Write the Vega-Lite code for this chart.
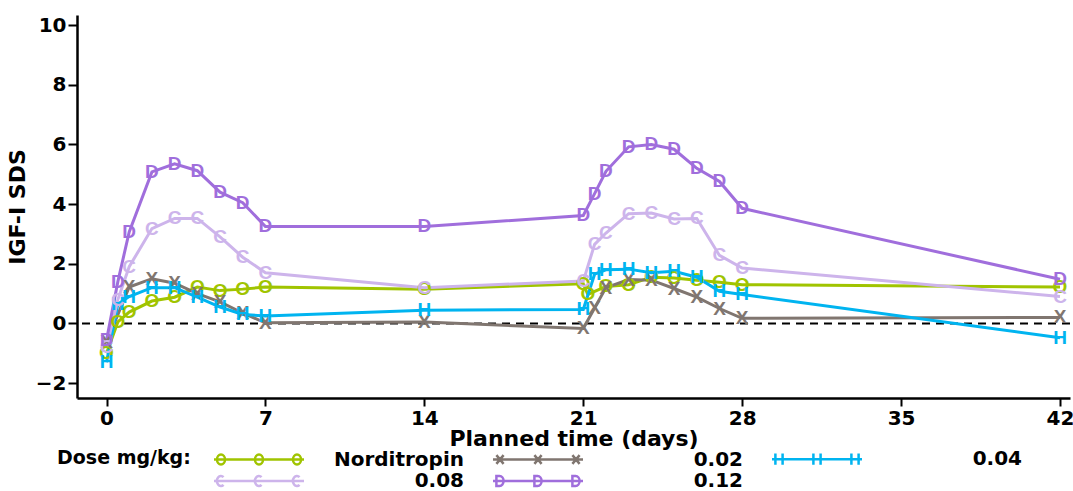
{
  "$schema": "https://vega.github.io/schema/vega-lite/v6.json",
  "width": 993,
  "height": 383,
  "autosize": {"type": "none"},
  "padding": {"left": 77, "top": 15, "right": 3, "bottom": 93},
  "background": "white",
  "config": {"view": {"stroke": null}, "font": "DejaVu Sans"},
  "layer": [
    {
      "data": {"values": [{"ref": 0}]},
      "mark": {"type": "rule", "strokeDash": [8, 6], "strokeWidth": 2, "color": "black"},
      "encoding": {"y": {"field": "ref", "type": "quantitative", "title": "IGF-I SDS"}}
    },
    {
      "data": {
        "values": [
          {"dose": "Norditropin", "day": 0, "sds": -1.0},
          {"dose": "Norditropin", "day": 0.5, "sds": 0.05},
          {"dose": "Norditropin", "day": 1, "sds": 0.38},
          {"dose": "Norditropin", "day": 2, "sds": 0.75},
          {"dose": "Norditropin", "day": 3, "sds": 0.88},
          {"dose": "Norditropin", "day": 4, "sds": 1.22},
          {"dose": "Norditropin", "day": 5, "sds": 1.1},
          {"dose": "Norditropin", "day": 6, "sds": 1.15},
          {"dose": "Norditropin", "day": 7, "sds": 1.22},
          {"dose": "Norditropin", "day": 14, "sds": 1.15},
          {"dose": "Norditropin", "day": 21, "sds": 1.33},
          {"dose": "Norditropin", "day": 21.2, "sds": 0.97},
          {"dose": "Norditropin", "day": 22, "sds": 1.24},
          {"dose": "Norditropin", "day": 23, "sds": 1.3},
          {"dose": "Norditropin", "day": 24, "sds": 1.55},
          {"dose": "Norditropin", "day": 25, "sds": 1.52},
          {"dose": "Norditropin", "day": 26, "sds": 1.45},
          {"dose": "Norditropin", "day": 27, "sds": 1.38},
          {"dose": "Norditropin", "day": 28, "sds": 1.3},
          {"dose": "Norditropin", "day": 42, "sds": 1.22},
          {"dose": "0.02", "day": 0, "sds": -0.63},
          {"dose": "0.02", "day": 1, "sds": 1.22},
          {"dose": "0.02", "day": 2, "sds": 1.5},
          {"dose": "0.02", "day": 3, "sds": 1.35},
          {"dose": "0.02", "day": 4, "sds": 1.0},
          {"dose": "0.02", "day": 5, "sds": 0.72},
          {"dose": "0.02", "day": 6, "sds": 0.35},
          {"dose": "0.02", "day": 7, "sds": 0.02},
          {"dose": "0.02", "day": 14, "sds": 0.05},
          {"dose": "0.02", "day": 21, "sds": -0.17},
          {"dose": "0.02", "day": 21.5, "sds": 0.52},
          {"dose": "0.02", "day": 22, "sds": 1.2},
          {"dose": "0.02", "day": 23, "sds": 1.47},
          {"dose": "0.02", "day": 24, "sds": 1.45},
          {"dose": "0.02", "day": 25, "sds": 1.17},
          {"dose": "0.02", "day": 26, "sds": 0.88},
          {"dose": "0.02", "day": 27, "sds": 0.5},
          {"dose": "0.02", "day": 28, "sds": 0.17},
          {"dose": "0.02", "day": 42, "sds": 0.2},
          {"dose": "0.04", "day": 0, "sds": -1.3},
          {"dose": "0.04", "day": 0.5, "sds": 0.65},
          {"dose": "0.04", "day": 1, "sds": 0.9},
          {"dose": "0.04", "day": 2, "sds": 1.2},
          {"dose": "0.04", "day": 3, "sds": 1.2},
          {"dose": "0.04", "day": 4, "sds": 0.88},
          {"dose": "0.04", "day": 5, "sds": 0.55},
          {"dose": "0.04", "day": 6, "sds": 0.3},
          {"dose": "0.04", "day": 7, "sds": 0.25},
          {"dose": "0.04", "day": 14, "sds": 0.44},
          {"dose": "0.04", "day": 21, "sds": 0.47},
          {"dose": "0.04", "day": 21.5, "sds": 1.65},
          {"dose": "0.04", "day": 22, "sds": 1.8},
          {"dose": "0.04", "day": 23, "sds": 1.82},
          {"dose": "0.04", "day": 24, "sds": 1.7},
          {"dose": "0.04", "day": 25, "sds": 1.75},
          {"dose": "0.04", "day": 26, "sds": 1.55},
          {"dose": "0.04", "day": 27, "sds": 1.08},
          {"dose": "0.04", "day": 28, "sds": 0.97},
          {"dose": "0.04", "day": 42, "sds": -0.48},
          {"dose": "0.08", "day": 0, "sds": -0.8},
          {"dose": "0.08", "day": 0.5, "sds": 0.8},
          {"dose": "0.08", "day": 1, "sds": 1.9},
          {"dose": "0.08", "day": 2, "sds": 3.18},
          {"dose": "0.08", "day": 3, "sds": 3.52},
          {"dose": "0.08", "day": 4, "sds": 3.52},
          {"dose": "0.08", "day": 5, "sds": 2.9},
          {"dose": "0.08", "day": 6, "sds": 2.22},
          {"dose": "0.08", "day": 7, "sds": 1.7},
          {"dose": "0.08", "day": 14, "sds": 1.2},
          {"dose": "0.08", "day": 21, "sds": 1.42},
          {"dose": "0.08", "day": 21.5, "sds": 2.65},
          {"dose": "0.08", "day": 22, "sds": 3.03},
          {"dose": "0.08", "day": 23, "sds": 3.68},
          {"dose": "0.08", "day": 24, "sds": 3.7},
          {"dose": "0.08", "day": 25, "sds": 3.5},
          {"dose": "0.08", "day": 26, "sds": 3.52},
          {"dose": "0.08", "day": 27, "sds": 2.28},
          {"dose": "0.08", "day": 28, "sds": 1.86},
          {"dose": "0.08", "day": 42, "sds": 0.9},
          {"dose": "0.12", "day": 0, "sds": -0.56},
          {"dose": "0.12", "day": 0.5, "sds": 1.4},
          {"dose": "0.12", "day": 1, "sds": 3.07},
          {"dose": "0.12", "day": 2, "sds": 5.08},
          {"dose": "0.12", "day": 3, "sds": 5.35},
          {"dose": "0.12", "day": 4, "sds": 5.12},
          {"dose": "0.12", "day": 5, "sds": 4.4},
          {"dose": "0.12", "day": 6, "sds": 4.05},
          {"dose": "0.12", "day": 7, "sds": 3.25},
          {"dose": "0.12", "day": 14, "sds": 3.25},
          {"dose": "0.12", "day": 21, "sds": 3.62},
          {"dose": "0.12", "day": 21.5, "sds": 4.35},
          {"dose": "0.12", "day": 22, "sds": 5.1},
          {"dose": "0.12", "day": 23, "sds": 5.92},
          {"dose": "0.12", "day": 24, "sds": 6.0},
          {"dose": "0.12", "day": 25, "sds": 5.84},
          {"dose": "0.12", "day": 26, "sds": 5.2},
          {"dose": "0.12", "day": 27, "sds": 4.76},
          {"dose": "0.12", "day": 28, "sds": 3.86},
          {"dose": "0.12", "day": 42, "sds": 1.48}
        ]
      },
      "encoding": {
        "x": {
          "field": "day", "type": "quantitative",
          "scale": {"domain": [-1.3, 42.44], "nice": false, "zero": false},
          "axis": {
            "values": [0, 7, 14, 21, 28, 35, 42], "title": "Planned time (days)", "grid": false,
            "domainColor": "black", "domainWidth": 2.5, "tickColor": "black", "tickWidth": 2, "tickSize": 8,
            "labelFont": "DejaVu Sans", "labelFontWeight": "bold", "labelFontSize": 20, "labelColor": "black",
            "labelPadding": 2, "labelFlush": false,
            "titleFont": "DejaVu Sans", "titleFontWeight": "bold", "titleFontSize": 22, "titleColor": "black", "titlePadding": 0
          }
        },
        "y": {
          "field": "sds", "type": "quantitative",
          "scale": {"domain": [-2.5, 10.34], "nice": false, "zero": false},
          "axis": {
            "values": [-2, 0, 2, 4, 6, 8, 10], "title": "IGF-I SDS", "grid": false,
            "domainColor": "black", "domainWidth": 2.5, "tickColor": "black", "tickWidth": 2, "tickSize": 9,
            "labelFont": "DejaVu Sans", "labelFontWeight": "bold", "labelFontSize": 20, "labelColor": "black",
            "labelPadding": 2, "labelFlush": false,
            "titleFont": "DejaVu Sans", "titleFontWeight": "bold", "titleFontSize": 22, "titleColor": "black", "titlePadding": 6
          }
        },
        "color": {
          "field": "dose", "type": "nominal",
          "scale": {"domain": ["0.02", "0.04", "0.08", "0.12", "Norditropin"], "range": ["#807670", "#00B4F0", "#CDB4EB", "#A06EDC", "#A0C400"]},
          "legend": null
        }
      },
      "layer": [
        {"mark": {"type": "line", "strokeWidth": 3}},
        {
          "mark": {"type": "point", "filled": false, "opacity": 0},
          "encoding": {
            "stroke": {
              "field": "dose", "type": "nominal",
              "scale": {"domain": ["Norditropin", "0.02", "0.04", "0.08", "0.12"], "range": ["#A0C400", "#807670", "#00B4F0", "#CDB4EB", "#A06EDC"]},
              "legend": {"title": "Dose mg/kg:", "orient": "none", "legendX": -20, "legendY": 434, "columns": 3, "direction": "horizontal",
                "titleOrient": "left", "titleFont": "DejaVu Sans", "titleFontSize": 19, "titleFontWeight": "bold", "titleColor": "black",
                "titlePadding": 21, "titleAnchor": "start", "titleBaseline": "top",
                "labelFont": "DejaVu Sans", "labelFontSize": 20, "labelFontWeight": "bold", "labelColor": "black",
                "labelAlign": "right", "labelOffset": 232, "labelLimit": 300,
                "symbolSize": 256, "symbolStrokeWidth": 2.5, "symbolOpacity": 1, "symbolFillColor": "transparent",
                "columnPadding": 24, "rowPadding": 0, "padding": 0}
            },
            "shape": {
              "field": "dose", "type": "nominal",
              "scale": {
                "domain": ["Norditropin", "0.02", "0.04", "0.08", "0.12"],
                "range": [
                  "M-1,0L10.25,0M-0.625,0A0.5,0.625 0 1,0 0.375,0A0.5,0.625 0 1,0 -0.625,0M4.125,0A0.5,0.625 0 1,0 5.125,0A0.5,0.625 0 1,0 4.125,0M8.875,0A0.5,0.625 0 1,0 9.875,0A0.5,0.625 0 1,0 8.875,0",
                  "M-1,0L10.25,0M-0.575,-0.55L0.325,0.55M-0.575,0.55L0.325,-0.55M4.175,-0.55L5.075,0.55M4.175,0.55L5.075,-0.55M8.925,-0.55L9.825,0.55M8.925,0.55L9.825,-0.55",
                  "M-1,0L10.25,0M-0.575,-0.7L-0.575,0.7M0.325,-0.7L0.325,0.7M4.175,-0.7L4.175,0.7M5.075,-0.7L5.075,0.7M8.925,-0.7L8.925,0.7M9.825,-0.7L9.825,0.7",
                  "M-1,0L10.25,0M0.195,-0.48A0.5,0.625 0 1,0 0.195,0.48M4.945,-0.48A0.5,0.625 0 1,0 4.945,0.48M9.695,-0.48A0.5,0.625 0 1,0 9.695,0.48",
                  "M-1,0L10.25,0M-0.575,-0.625L-0.575,0.625L-0.175,0.625A0.5,0.625 0 0,0 -0.175,-0.625ZM4.175,-0.625L4.175,0.625L4.575,0.625A0.5,0.625 0 0,0 4.575,-0.625ZM8.925,-0.625L8.925,0.625L9.325,0.625A0.5,0.625 0 0,0 9.325,-0.625Z"
                ]
              },
              "legend": {"title": "Dose mg/kg:", "orient": "none", "legendX": -20, "legendY": 434, "columns": 3, "direction": "horizontal",
                "titleOrient": "left", "titleFont": "DejaVu Sans", "titleFontSize": 19, "titleFontWeight": "bold", "titleColor": "black",
                "titlePadding": 21, "titleAnchor": "start", "titleBaseline": "top",
                "labelFont": "DejaVu Sans", "labelFontSize": 20, "labelFontWeight": "bold", "labelColor": "black",
                "labelAlign": "right", "labelOffset": 232, "labelLimit": 300,
                "symbolSize": 256, "symbolStrokeWidth": 2.5, "symbolOpacity": 1, "symbolFillColor": "transparent",
                "columnPadding": 24, "rowPadding": 0, "padding": 0}
            }
          }
        },
        {
          "transform": [{"filter": "datum.dose === 'Norditropin'"}],
          "mark": {"type": "text", "text": "O", "font": "Liberation Sans", "fontWeight": "bold", "fontSize": 19, "align": "center", "baseline": "middle"}
        },
        {
          "transform": [{"filter": "datum.dose === '0.02'"}],
          "mark": {"type": "text", "text": "X", "font": "Liberation Sans", "fontWeight": "bold", "fontSize": 19, "align": "center", "baseline": "middle"}
        },
        {
          "transform": [{"filter": "datum.dose === '0.04'"}],
          "mark": {"type": "text", "text": "H", "font": "Liberation Sans", "fontWeight": "bold", "fontSize": 19, "align": "center", "baseline": "middle"}
        },
        {
          "transform": [{"filter": "datum.dose === '0.08'"}],
          "mark": {"type": "text", "text": "C", "font": "Liberation Sans", "fontWeight": "bold", "fontSize": 19, "align": "center", "baseline": "middle"}
        },
        {
          "transform": [{"filter": "datum.dose === '0.12'"}],
          "mark": {"type": "text", "text": "D", "font": "Liberation Sans", "fontWeight": "bold", "fontSize": 19, "align": "center", "baseline": "middle"}
        }
      ]
    }
  ]
}
